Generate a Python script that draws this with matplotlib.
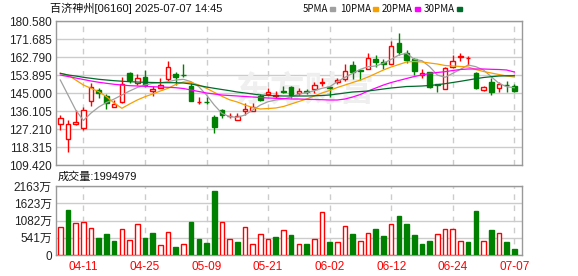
import matplotlib
matplotlib.use("Agg")
import matplotlib.pyplot as plt
from matplotlib.patches import Rectangle
import numpy as np

plt.rcParams['font.family'] = ['Liberation Sans', 'Noto Sans CJK SC', 'DejaVu Sans']

# daily candles (HKD)
opens = [129.83, 122.27, 129.68, 127.85, 141.05, 146.48, 143.52, 137.93, 140.40, 155.03,
         150.09, 152.76, 146.14, 147.32, 152.07, 154.54, 154.04, 148.61, 140.40, 140.70,
         133.00, 136.60, 133.49, 131.66, 135.96, 135.96, 143.52, 144.36, 143.60, 145.89,
         148.12, 145.15, 146.14, 146.83, 150.09, 147.72, 150.58, 151.77, 158.84, 156.37,
         156.71, 161.65, 160.47, 159.48, 169.56, 164.62, 161.65, 153.90, 155.23, 149.30,
         146.83, 158.00, 162.84, 162.30, 154.74, 146.48, 150.29, 147.32, 149.10, 148.46]
highs = [134.13, 131.66, 136.60, 138.23, 150.09, 147.32, 144.36, 141.54, 153.05, 155.30,
         154.24, 156.37, 148.46, 152.26, 160.81, 155.38, 159.33, 149.79, 143.17, 143.17,
         134.13, 137.10, 134.97, 135.27, 139.91, 139.91, 144.36, 147.62, 145.99, 148.46,
         148.30, 147.32, 146.98, 150.29, 152.26, 148.46, 152.26, 159.18, 160.81, 156.50,
         164.91, 163.78, 161.65, 170.70, 174.50, 166.25, 162.44, 156.86, 155.53, 149.30,
         158.00, 163.78, 164.91, 163.43, 155.53, 148.61, 152.26, 150.58, 150.93, 149.30]
lows = [126.57, 115.69, 129.19, 126.70, 138.72, 142.68, 137.09, 137.93, 139.90, 150.09,
        148.95, 148.12, 143.67, 147.32, 150.93, 148.95, 153.05, 141.19, 139.56, 139.56,
        125.09, 132.50, 132.50, 131.66, 134.13, 135.96, 141.19, 144.36, 142.38, 144.85,
        142.38, 144.01, 144.51, 144.85, 148.61, 143.17, 149.45, 150.93, 151.77, 151.60,
        156.71, 158.00, 156.71, 159.30, 163.78, 159.68, 153.90, 152.26, 147.32, 145.65,
        146.83, 157.21, 160.96, 158.84, 146.98, 145.99, 144.01, 145.65, 145.65, 145.65]
closes = [132.65, 129.53, 130.52, 136.60, 147.82, 145.15, 140.21, 139.42, 149.30, 151.42,
          152.26, 148.95, 146.83, 148.80, 157.70, 152.91, 153.75, 141.19, 140.70, 140.40,
          128.05, 133.98, 133.78, 133.49, 137.09, 138.23, 141.54, 145.50, 143.87, 145.65,
          144.01, 145.99, 145.35, 148.80, 150.58, 147.47, 151.42, 155.87, 155.23, 155.87,
          162.15, 160.17, 159.18, 168.37, 165.41, 161.31, 156.02, 155.03, 148.12, 148.95,
          157.21, 160.81, 163.04, 162.54, 147.62, 147.82, 145.35, 149.45, 148.80, 146.14]

ma5 = [151.42, 144.01, 136.60, 131.41, 135.12, 138.08, 140.31, 142.03, 144.01, 145.99,
       147.72, 148.95, 149.79, 150.09, 150.58, 151.42, 151.77, 150.58, 148.11, 144.01,
       139.07, 134.97, 133.29, 132.99, 134.13, 136.60, 139.07, 140.70, 141.54, 142.03,
       143.02, 144.51, 145.15, 146.14, 147.32, 148.11, 150.58, 152.76, 154.73, 156.71,
       158.00, 158.34, 159.68, 161.65, 163.78, 164.62, 161.65, 160.96, 158.00, 153.89,
       152.76, 154.73, 156.71, 158.84, 158.00, 156.37, 153.05, 149.79, 148.11, 147.62]
ma10 = [154.73, 153.89, 151.42, 148.95, 147.32, 145.64, 143.17, 140.06, 137.44, 139.56,
        141.54, 143.17, 144.51, 145.99, 147.32, 149.20, 150.44, 150.19, 148.95, 147.32,
        145.34, 143.37, 141.64, 140.55, 139.07, 137.83, 137.09, 137.34, 137.59, 138.33,
        139.56, 140.80, 142.03, 143.52, 145.00, 146.24, 147.72, 148.95, 150.19, 151.42,
        152.91, 154.64, 156.37, 157.85, 159.08, 160.32, 160.57, 160.32, 159.82, 159.33,
        158.59, 158.34, 158.10, 157.85, 156.61, 155.62, 154.88, 154.14, 153.40, 152.91]
ma20 = [153.89, 153.15, 152.41, 151.67, 150.93, 150.29, 149.79, 149.30, 148.95, 148.61,
        148.46, 148.31, 148.11, 147.96, 147.82, 147.62, 147.22, 146.48, 145.74, 145.00,
        144.51, 144.01, 143.76, 143.52, 143.27, 143.02, 142.78, 142.53, 142.38, 142.28,
        142.03, 142.03, 141.89, 141.79, 141.69, 141.54, 141.54, 142.03, 143.02, 144.26,
        145.99, 147.47, 148.95, 150.19, 151.18, 152.17, 153.15, 153.89, 154.64, 155.13,
        155.53, 156.12, 156.61, 156.86, 156.86, 156.86, 156.71, 156.61, 156.37, 155.38]
ma30 = [154.73, 153.89, 153.40, 152.76, 152.26, 151.77, 151.42, 151.08, 150.83, 150.58,
        150.44, 150.29, 150.19, 150.09, 150.09, 150.09, 149.94, 149.45, 148.71, 147.96,
        147.32, 146.73, 146.14, 145.49, 145.00, 144.51, 144.01, 143.76, 143.62, 143.52,
        143.52, 143.52, 143.52, 143.62, 143.76, 144.01, 144.51, 145.00, 145.49, 145.74,
        145.99, 146.48, 146.98, 147.47, 147.82, 148.21, 148.31, 148.46, 148.71, 149.10,
        149.60, 150.19, 150.78, 151.42, 152.07, 152.66, 153.05, 153.40, 153.50, 153.55]

# volume in 万 shares, 1 = red (up day), 0 = green
volume = [875, 1412, 990, 1022, 843, 527, 653, 432, 801, 485,
          959, 527, 685, 306, 706, 242, 358, 1032, 495, 369,
          2012, 1022, 516, 400, 864, 358, 643, 516, 558, 769,
          622, 358, 337, 516, 1338, 400, 421, 896, 653, 453,
          675, 811, 590, 959, 1222, 969, 622, 337, 432, 643,
          801, 801, 453, 400, 1380, 453, 780, 675, 400, 199]
vol_up = [1, 0, 1, 1, 1, 0, 0, 0, 1, 1,
          1, 0, 0, 1, 1, 0, 1, 0, 0, 0,
          0, 1, 1, 0, 1, 1, 1, 1, 0, 1,
          0, 1, 0, 1, 1, 0, 1, 1, 0, 1,
          1, 0, 0, 1, 0, 0, 0, 0, 0, 1,
          1, 1, 1, 0, 0, 1, 0, 1, 0, 0]

date_pos = [3, 11, 19, 27, 35, 43, 51, 59]
date_labels = ['04-11', '04-25', '05-09', '05-21', '06-02', '06-12', '06-24', '07-07']
price_ticks = [109.420, 118.315, 127.210, 136.105, 145.000, 153.895, 162.790, 171.685, 180.580]
vol_ticks = [0, 540.75, 1081.5, 1622.25, 2163]
vol_tick_labels = ['0', '541万', '1082万', '1623万', '2163万']

RED = '#ff0000'
GREEN = '#008000'
GRID = '#cccccc'
FRAME = '#999999'

W, H = 578, 276
fig = plt.figure(figsize=(W / 100, H / 100), dpi=100)


def px_axes(left, top, right, bottom):
    return fig.add_axes([left / W, 1 - bottom / H, (right - left) / W, (bottom - top) / H])


def style_axes(a):
    for s in a.spines.values():
        s.set_color(FRAME)
        s.set_linewidth(1)
    a.tick_params(length=0, labelsize=8.5, colors='#222222', pad=3)
    a.yaxis.grid(True, color=GRID, lw=1, zorder=0)
    for p in date_pos:
        a.axvline(p, color=GRID, lw=1, ls=(0, (4, 4)), zorder=0)
    a.set_axisbelow(True)


ax = px_axes(56, 21, 522, 165)
axv = px_axes(56, 186, 522, 255)

x = np.arange(len(closes))
o = np.array(opens)
c = np.array(closes)
up = c >= o
colors = [RED if u else GREEN for u in up]
faces = ['white' if u else GREEN for u in up]

# watermark
ax.text(31.8, 146.3, '东方财富', fontsize=25, fontweight='bold', color='#efefef',
        ha='center', va='center', zorder=1, family=['Noto Sans CJK SC'])

ax.vlines(x, lows, highs, colors=colors, lw=1, zorder=3)
ax.bar(x, np.abs(c - o), 0.6, bottom=np.minimum(o, c), color=faces,
       edgecolor=colors, linewidth=1, zorder=4)

ax.plot(x, ma5, color='#a0a0a0', lw=0.9, zorder=5)
ax.plot(x, ma10, color='#f5a000', lw=0.9, zorder=5)
ax.plot(x, ma20, color='#ff00ff', lw=0.9, zorder=5)
ax.plot(x, ma30, color='#006b2a', lw=0.9, zorder=5)

ax.set_xlim(-0.56, 60.0)
ax.set_ylim(price_ticks[0], price_ticks[-1])
ax.set_yticks(price_ticks)
ax.set_yticklabels(['%.3f' % v for v in price_ticks])
ax.set_xticks([])
style_axes(ax)

vcol = [RED if u else GREEN for u in vol_up]
vface = ['white' if u else GREEN for u in vol_up]
axv.bar(x, volume, 0.6, color=vface, edgecolor=vcol, linewidth=1, zorder=3)
axv.set_xlim(-0.56, 60.0)
axv.set_ylim(0, 2163)
axv.set_yticks(vol_ticks)
axv.set_yticklabels(vol_tick_labels)
axv.set_xticks(date_pos)
axv.set_xticklabels(date_labels)
style_axes(axv)
axv.tick_params(axis='x', colors=RED, pad=4)

# header and legend
fig.text(50 / W, 1 - 8 / H, '百济神州[06160] 2025-07-07 14:45', fontsize=8,
         ha='left', va='center', color='#111111')
legend = [('5PMA', '#a0a0a0', 330), ('10PMA', '#f5a000', 373),
          ('20PMA', '#ff00ff', 415), ('30PMA', '#006b2a', 457)]
for name, col, sx in legend:
    fig.text((sx - 2) / W, 1 - 8.5 / H, name, fontsize=7, ha='right', va='center',
             color='#111111', family=['Noto Sans CJK SC'])
    fig.patches.append(Rectangle((sx / W, 1 - 10.5 / H), 5 / W, 4 / H, color=col,
                                 transform=fig.transFigure, figure=fig))
fig.text(58 / W, 1 - 177 / H, '成交量:1994979', fontsize=8, ha='left', va='center',
         color='#111111')

fig.savefig('out.png', dpi=100)
